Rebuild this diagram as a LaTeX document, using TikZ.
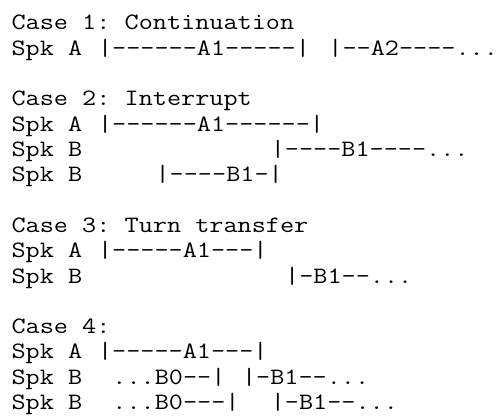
\documentclass[tikz,border=0pt]{standalone}
\usepackage{fontspec}
\setmonofont{Latin Modern Mono}[FakeStretch=1.17]
\begin{document}
\begin{tikzpicture}[x=1pt,y=1pt,
  txt/.style={anchor=base west,inner sep=0pt,outer sep=0pt,
    font=\ttfamily\fontsize{23.45}{25.3}\selectfont,text=black}]
\useasboundingbox[fill=white] (0,0) rectangle (500,-417);
\newcommand{\tl}[4]{\node[txt] (#1) at ({11.6+#2*14.4},{-30-(#3-1)*25.3}) {#4};}
% Case 1
\tl{c1}{0}{1}{Case 1: Continuation}
\tl{c1a}{0}{2}{Spk A}
\tl{c1aA}{6}{2}{|------A1-----|}
\tl{c1aB}{22}{2}{|--A2----...}
% Case 2
\tl{c2}{0}{4}{Case 2: Interrupt}
\tl{c2a}{0}{5}{Spk A}
\tl{c2aA}{6}{5}{|------A1------|}
\tl{c2b}{0}{6}{Spk B}
\tl{c2bB}{18}{6}{|----B1----...}
\tl{c2c}{0}{7}{Spk B}
\tl{c2cB}{10}{7}{|----B1-|}
% Case 3
\tl{c3}{0}{9}{Case 3: Turn transfer}
\tl{c3a}{0}{10}{Spk A}
\tl{c3aA}{6}{10}{|-----A1---|}
\tl{c3b}{0}{11}{Spk B}
\tl{c3bB}{19}{11}{|-B1--...}
% Case 4
\tl{c4}{0}{13}{Case 4:}
\tl{c4a}{0}{14}{Spk A}
\tl{c4aA}{6}{14}{|-----A1---|}
\tl{c4b}{0}{15}{Spk B}
\tl{c4bB}{7}{15}{...B0--|}
\tl{c4bC}{16}{15}{|-B1--...}
\tl{c4c}{0}{16}{Spk B}
\tl{c4cB}{7}{16}{...B0---|}
\tl{c4cC}{18}{16}{|-B1--...}
\end{tikzpicture}
\end{document}
